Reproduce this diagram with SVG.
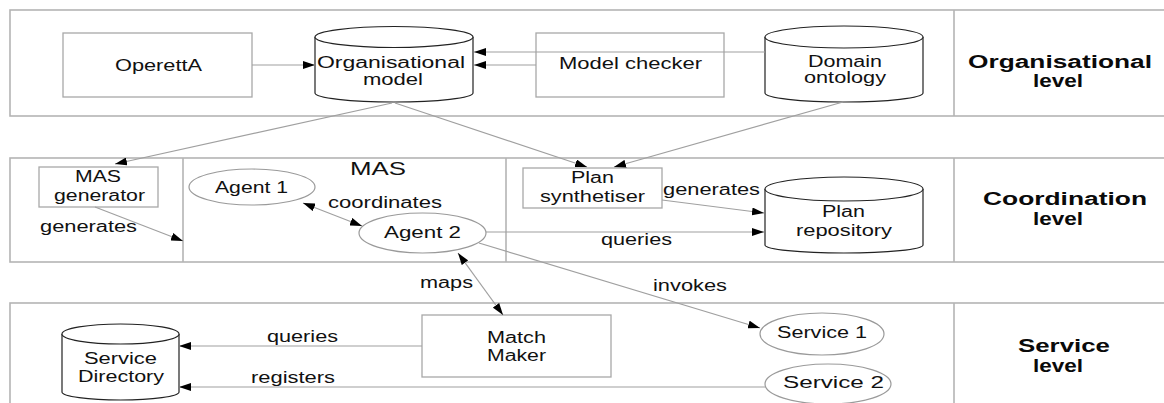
<svg xmlns="http://www.w3.org/2000/svg" width="1164" height="403" viewBox="0 0 1164 403">
  <style>
    .band { fill: none; stroke: #b4b4b4; stroke-width: 1.6; }
    .box { fill: none; stroke: #a8a8a8; stroke-width: 1.3; }
    .cyl { fill: #fff; stroke: #222; stroke-width: 1.2; }
    .ell { fill: #fff; stroke: #9a9a9a; stroke-width: 1.2; }
    .edge { fill: none; stroke: #a0a0a0; stroke-width: 1.2; }
    text { font-family: "Liberation Sans", Arial, sans-serif; fill: #111; }
    .t { font-size: 16px; }
    .lvl { font-size: 18px; font-weight: bold; fill: #0a0a0a; }
  </style>
  <defs>
    <marker id="arr" viewBox="0 0 12 8" refX="12" refY="4" markerWidth="12" markerHeight="8" markerUnits="userSpaceOnUse" orient="auto-start-reverse">
      <path d="M0,0 L12,4 L0,8 Z" fill="#000"/>
    </marker>
  </defs>

  <rect width="1164" height="403" fill="#fff"/>

  <!-- level bands -->
  <g id="bands">
    <rect class="band" x="10" y="10" width="1170" height="106"/>
    <line class="band" x1="954" y1="10" x2="954" y2="116"/>
    <rect class="band" x="10" y="158" width="1170" height="104"/>
    <line class="band" x1="183" y1="158" x2="183" y2="262"/>
    <line class="band" x1="506" y1="158" x2="506" y2="262"/>
    <line class="band" x1="954" y1="158" x2="954" y2="262"/>
    <rect class="band" x="10" y="303" width="1170" height="120"/>
    <line class="band" x1="954" y1="303" x2="954" y2="403"/>
  </g>

  <!-- nodes of the organisational level -->
  <g id="operetta">
    <rect class="box" x="63" y="33" width="189" height="64"/>
    <text class="t" x="115" y="71" textLength="87" lengthAdjust="spacingAndGlyphs">OperettA</text>
  </g>
  <g id="organisational-model">
    <path class="cyl" d="M315,37 L315,93 A79,9 0 0 0 473,93 L473,37"/>
    <ellipse class="cyl" cx="394" cy="37" rx="79" ry="10.5"/>
    <text class="t" x="317" y="68" textLength="148" lengthAdjust="spacingAndGlyphs">Organisational</text>
    <text class="t" x="363" y="85" textLength="60" lengthAdjust="spacingAndGlyphs">model</text>
  </g>
  <g id="model-checker">
    <rect class="box" x="536" y="33" width="188" height="64"/>
    <text class="t" x="559" y="69" textLength="143" lengthAdjust="spacingAndGlyphs">Model checker</text>
  </g>
  <g id="domain-ontology">
    <path class="cyl" d="M765,37 L765,93 A79,9 0 0 0 923,93 L923,37"/>
    <ellipse class="cyl" cx="844" cy="37" rx="79" ry="11"/>
    <text class="t" x="808" y="67" textLength="74" lengthAdjust="spacingAndGlyphs">Domain</text>
    <text class="t" x="804" y="83" textLength="82" lengthAdjust="spacingAndGlyphs">ontology</text>
  </g>
  <g id="organisational-level">
    <text class="lvl" x="968" y="68" textLength="184" lengthAdjust="spacingAndGlyphs">Organisational</text>
    <text class="lvl" x="1033" y="87" textLength="50" lengthAdjust="spacingAndGlyphs">level</text>
  </g>

  <!-- nodes of the coordination level -->
  <g id="mas-generator">
    <rect class="box" x="39" y="167" width="119" height="40"/>
    <text class="t" x="75" y="182" textLength="46" lengthAdjust="spacingAndGlyphs">MAS</text>
    <text class="t" x="54" y="201" textLength="91" lengthAdjust="spacingAndGlyphs">generator</text>
  </g>
  <g id="mas">
    <text x="350" y="175" font-size="18" textLength="56" lengthAdjust="spacingAndGlyphs">MAS</text>
  </g>
  <g id="agent-1">
    <ellipse class="ell" cx="252" cy="187" rx="63" ry="18"/>
    <text class="t" x="215" y="193" textLength="73" lengthAdjust="spacingAndGlyphs">Agent 1</text>
  </g>
  <g id="agent-2">
    <ellipse class="ell" cx="422.5" cy="233" rx="63.5" ry="20"/>
    <text class="t" x="384" y="238" textLength="77" lengthAdjust="spacingAndGlyphs">Agent 2</text>
  </g>
  <g id="plan-synthetiser">
    <rect class="box" x="523" y="168" width="139" height="40"/>
    <text class="t" x="571" y="183" textLength="43" lengthAdjust="spacingAndGlyphs">Plan</text>
    <text class="t" x="540" y="202" textLength="105" lengthAdjust="spacingAndGlyphs">synthetiser</text>
  </g>
  <g id="plan-repository">
    <path class="cyl" d="M765,189 L765,245 A79,8 0 0 0 923,245 L923,189"/>
    <ellipse class="cyl" cx="844" cy="189" rx="79" ry="12"/>
    <text class="t" x="822" y="217" textLength="43" lengthAdjust="spacingAndGlyphs">Plan</text>
    <text class="t" x="796" y="236" textLength="96" lengthAdjust="spacingAndGlyphs">repository</text>
  </g>
  <g id="coordination-level">
    <text class="lvl" x="983" y="205" textLength="164" lengthAdjust="spacingAndGlyphs">Coordination</text>
    <text class="lvl" x="1033" y="225" textLength="50" lengthAdjust="spacingAndGlyphs">level</text>
  </g>

  <!-- nodes of the service level -->
  <g id="service-directory">
    <path class="cyl" d="M62,334 L62,392 A58.5,8 0 0 0 179,392 L179,334"/>
    <ellipse class="cyl" cx="120.5" cy="334" rx="58.5" ry="10"/>
    <text class="t" x="84" y="364" textLength="73" lengthAdjust="spacingAndGlyphs">Service</text>
    <text class="t" x="78" y="382" textLength="86" lengthAdjust="spacingAndGlyphs">Directory</text>
  </g>
  <g id="match-maker">
    <rect class="box" x="422" y="315" width="189" height="62"/>
    <text class="t" x="487" y="343" textLength="59" lengthAdjust="spacingAndGlyphs">Match</text>
    <text class="t" x="487" y="361" textLength="59" lengthAdjust="spacingAndGlyphs">Maker</text>
  </g>
  <g id="service-1">
    <ellipse class="ell" cx="822" cy="334" rx="62" ry="21"/>
    <text class="t" x="777" y="338" textLength="90" lengthAdjust="spacingAndGlyphs">Service 1</text>
  </g>
  <g id="service-2">
    <ellipse class="ell" cx="828" cy="384" rx="63" ry="20"/>
    <text class="t" x="783" y="388" textLength="101" lengthAdjust="spacingAndGlyphs">Service 2</text>
  </g>
  <g id="service-level">
    <text class="lvl" x="1018" y="352" textLength="92" lengthAdjust="spacingAndGlyphs">Service</text>
    <text class="lvl" x="1033" y="372" textLength="50" lengthAdjust="spacingAndGlyphs">level</text>
  </g>

  <!-- connectors -->
  <g id="connectors">
    <line class="edge" x1="252" y1="65" x2="315" y2="65" marker-end="url(#arr)"/>
    <line class="edge" x1="765" y1="52" x2="474" y2="52" marker-end="url(#arr)"/>
    <line class="edge" x1="536" y1="65" x2="474" y2="65" marker-end="url(#arr)"/>
    <line class="edge" x1="392" y1="103" x2="115" y2="164" marker-end="url(#arr)"/>
    <line class="edge" x1="395" y1="103" x2="587" y2="167" marker-end="url(#arr)"/>
    <line class="edge" x1="843" y1="102" x2="614" y2="167" marker-end="url(#arr)"/>
    <line class="edge" x1="95" y1="207" x2="183" y2="241" marker-end="url(#arr)"/>
    <line class="edge" x1="303" y1="203" x2="362" y2="226" marker-start="url(#arr)" marker-end="url(#arr)"/>
    <line class="edge" x1="662" y1="200" x2="764" y2="213" marker-end="url(#arr)"/>
    <line class="edge" x1="486" y1="232" x2="764" y2="232" marker-end="url(#arr)"/>
    <line class="edge" x1="479" y1="243" x2="760" y2="328" marker-end="url(#arr)"/>
    <line class="edge" x1="458" y1="253" x2="503" y2="315" marker-start="url(#arr)" marker-end="url(#arr)"/>
    <line class="edge" x1="422" y1="346" x2="179" y2="346" marker-end="url(#arr)"/>
    <line class="edge" x1="766" y1="387" x2="179" y2="387" marker-end="url(#arr)"/>
    <text class="t" x="40" y="232" textLength="97" lengthAdjust="spacingAndGlyphs">generates</text>
    <text class="t" x="328" y="208" textLength="114" lengthAdjust="spacingAndGlyphs">coordinates</text>
    <text class="t" x="663" y="195" textLength="97" lengthAdjust="spacingAndGlyphs">generates</text>
    <text class="t" x="601" y="245" textLength="71" lengthAdjust="spacingAndGlyphs">queries</text>
    <text class="t" x="653" y="291" textLength="74" lengthAdjust="spacingAndGlyphs">invokes</text>
    <text class="t" x="420" y="288" textLength="53" lengthAdjust="spacingAndGlyphs">maps</text>
    <text class="t" x="267" y="342" textLength="71" lengthAdjust="spacingAndGlyphs">queries</text>
    <text class="t" x="251" y="383" textLength="84" lengthAdjust="spacingAndGlyphs">registers</text>
  </g>
</svg>
